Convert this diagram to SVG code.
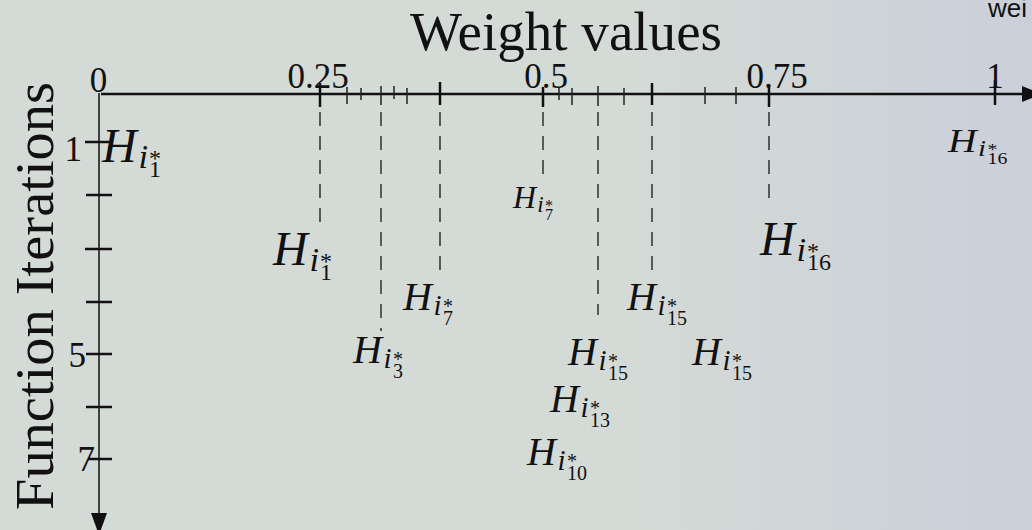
<svg xmlns="http://www.w3.org/2000/svg" width="1032" height="530" viewBox="0 0 1032 530">
<defs>
<linearGradient id="bg" x1="0" y1="0" x2="1032" y2="0" gradientUnits="userSpaceOnUse">
<stop offset="0" stop-color="#d4dad6"/>
<stop offset="0.62" stop-color="#d4dad6"/>
<stop offset="1" stop-color="#cbcfda"/>
</linearGradient>
<style>
.t{font-family:"Liberation Serif","DejaVu Serif",serif;fill:#111}
.it{font-style:italic}
.ax{stroke:#111;fill:none}
.maj{stroke:#111;stroke-width:2.5}
.min{stroke:#222;stroke-width:1.5}
.dash{stroke:#3a3a3a;stroke-width:1.6;stroke-dasharray:14 10;fill:none}
</style>
</defs>
<rect x="0" y="0" width="1032" height="530" fill="url(#bg)"/>

<g id="titles">
<text class="t" x="410" y="50" font-size="55" textLength="312" lengthAdjust="spacingAndGlyphs">Weight values</text>
<text class="t" transform="translate(53,296) rotate(-90)" text-anchor="middle" font-size="55" textLength="428" lengthAdjust="spacingAndGlyphs">Function Iterations</text>
<text x="988" y="17" font-family="Liberation Sans, Arial, sans-serif" font-size="26" fill="#111">wei</text>
</g>

<g id="axes">
<line class="ax" x1="101" y1="94" x2="1024" y2="94" stroke-width="2.5"/>
<polygon points="1022,86 1042,94 1022,102" fill="#111"/>
<line class="ax" x1="99" y1="93" x2="99" y2="514" stroke-width="1.5"/>
<polygon points="91,513 107,513 99,535" fill="#111"/>
<g id="xticks">
<line class="maj" x1="320" y1="83" x2="320" y2="107"/>
<line class="maj" x1="440" y1="82" x2="440" y2="105"/>
<line class="maj" x1="543" y1="87" x2="543" y2="107"/>
<line class="maj" x1="652" y1="83" x2="652" y2="105"/>
<line class="maj" x1="769" y1="85" x2="769" y2="107"/>
<line class="maj" x1="995" y1="80" x2="995" y2="105"/>
<line class="min" x1="347" y1="87" x2="347" y2="104"/>
<line class="min" x1="361" y1="88" x2="361" y2="100"/>
<line class="min" x1="381" y1="86" x2="381" y2="105"/>
<line class="min" x1="394" y1="86" x2="394" y2="99"/>
<line class="min" x1="407" y1="88" x2="407" y2="104"/>
<line class="min" x1="559" y1="88" x2="559" y2="100"/>
<line class="min" x1="572" y1="88" x2="572" y2="105"/>
<line class="min" x1="598" y1="86" x2="598" y2="106"/>
<line class="min" x1="624" y1="88" x2="624" y2="105"/>
<line class="min" x1="705" y1="87" x2="705" y2="104"/>
<line class="min" x1="736" y1="87" x2="736" y2="104"/>
</g>
<g id="yticks">
<line class="maj" x1="85" y1="142" x2="112" y2="142" stroke-width="2"/>
<line class="maj" x1="86" y1="195" x2="112" y2="195" stroke-width="2"/>
<line class="maj" x1="85" y1="249" x2="112" y2="249" stroke-width="2"/>
<line class="maj" x1="86" y1="302" x2="112" y2="302" stroke-width="2"/>
<line class="maj" x1="86" y1="354" x2="112" y2="354" stroke-width="2"/>
<line class="maj" x1="86" y1="407" x2="112" y2="407" stroke-width="2"/>
<line class="maj" x1="88" y1="459" x2="112" y2="459" stroke-width="1.5"/>
</g>
<g id="ticklabels" class="t" font-size="35">
<text x="98.5" y="92" text-anchor="middle">0</text>
<text x="318" y="88" text-anchor="middle">0.25</text>
<text x="546" y="88" text-anchor="middle">0.5</text>
<text x="777" y="88" text-anchor="middle">0.75</text>
<text x="995" y="88" text-anchor="middle">1</text>
<text x="82" y="161" text-anchor="end">1</text>
<text x="86" y="367" text-anchor="end">5</text>
<text x="95" y="471" text-anchor="end">7</text>
</g>
</g>

<g id="connectors">
<line class="dash" x1="320" y1="112" x2="320" y2="226"/>
<line class="dash" x1="381" y1="112" x2="381" y2="331"/>
<line class="dash" x1="440" y1="112" x2="440" y2="277"/>
<line class="dash" x1="543" y1="112" x2="543" y2="180"/>
<line class="dash" x1="598" y1="112" x2="598" y2="315"/>
<line class="dash" x1="652" y1="112" x2="652" y2="277"/>
<line class="dash" x1="769" y1="112" x2="769" y2="205"/>
</g>

<g id="n-h1-axis"><text class="t"><tspan class="it" x="102" y="162" font-size="48">H</tspan><tspan class="it" x="138.5" y="167.8" font-size="34.5">i</tspan><tspan x="149" y="165.8" font-size="24">*</tspan><tspan x="149" y="177" font-size="24">1</tspan></text></g>
<g id="n-h1"><text class="t"><tspan class="it" x="273" y="265" font-size="48">H</tspan><tspan class="it" x="309.5" y="270.8" font-size="34.5">i</tspan><tspan x="320" y="268.8" font-size="24">*</tspan><tspan x="320" y="280" font-size="24">1</tspan></text></g>
<g id="n-h16-large"><text class="t"><tspan class="it" x="760" y="255" font-size="48">H</tspan><tspan class="it" x="796.5" y="260.8" font-size="34.5">i</tspan><tspan x="807" y="258.8" font-size="24">*</tspan><tspan x="807" y="270" font-size="24">16</tspan></text></g>
<g id="n-h16-small" transform="translate(948,0) scale(1.2,1) translate(-948,0)"><text class="t"><tspan class="it" x="948" y="152" font-size="33">H</tspan><tspan class="it" x="973" y="156" font-size="24">i</tspan><tspan x="981" y="154.6" font-size="16.5">*</tspan><tspan x="981" y="164" font-size="16.5">16</tspan></text></g>
<g id="n-h7-small"><text class="t"><tspan class="it" x="513" y="208" font-size="32">H</tspan><tspan class="it" x="537.3" y="211.8" font-size="23">i</tspan><tspan x="545" y="210.6" font-size="16">*</tspan><tspan x="545" y="220" font-size="16">7</tspan></text></g>
<g id="n-h7"><text class="t"><tspan class="it" x="403" y="310" font-size="40">H</tspan><tspan class="it" x="433.4" y="314.8" font-size="29">i</tspan><tspan x="443" y="313.2" font-size="20">*</tspan><tspan x="443" y="325" font-size="20">7</tspan></text></g>
<g id="n-h3"><text class="t"><tspan class="it" x="353" y="363" font-size="40">H</tspan><tspan class="it" x="383.4" y="367.8" font-size="29">i</tspan><tspan x="393" y="366.2" font-size="20">*</tspan><tspan x="393" y="378" font-size="20">3</tspan></text></g>
<g id="n-h15-a"><text class="t"><tspan class="it" x="627" y="310" font-size="40">H</tspan><tspan class="it" x="657.4" y="314.8" font-size="29">i</tspan><tspan x="667" y="313.2" font-size="20">*</tspan><tspan x="667" y="325" font-size="20">15</tspan></text></g>
<g id="n-h15-b"><text class="t"><tspan class="it" x="568" y="365" font-size="40">H</tspan><tspan class="it" x="598.4" y="369.8" font-size="29">i</tspan><tspan x="608" y="368.2" font-size="20">*</tspan><tspan x="608" y="380" font-size="20">15</tspan></text></g>
<g id="n-h15-c"><text class="t"><tspan class="it" x="692" y="365" font-size="40">H</tspan><tspan class="it" x="722.4" y="369.8" font-size="29">i</tspan><tspan x="732" y="368.2" font-size="20">*</tspan><tspan x="732" y="380" font-size="20">15</tspan></text></g>
<g id="n-h13"><text class="t"><tspan class="it" x="550" y="412" font-size="40">H</tspan><tspan class="it" x="580.4" y="416.8" font-size="29">i</tspan><tspan x="590" y="415.2" font-size="20">*</tspan><tspan x="590" y="427" font-size="20">13</tspan></text></g>
<g id="n-h10"><text class="t"><tspan class="it" x="527" y="465" font-size="40">H</tspan><tspan class="it" x="557.4" y="469.8" font-size="29">i</tspan><tspan x="567" y="468.2" font-size="20">*</tspan><tspan x="567" y="480" font-size="20">10</tspan></text></g>
</svg>
